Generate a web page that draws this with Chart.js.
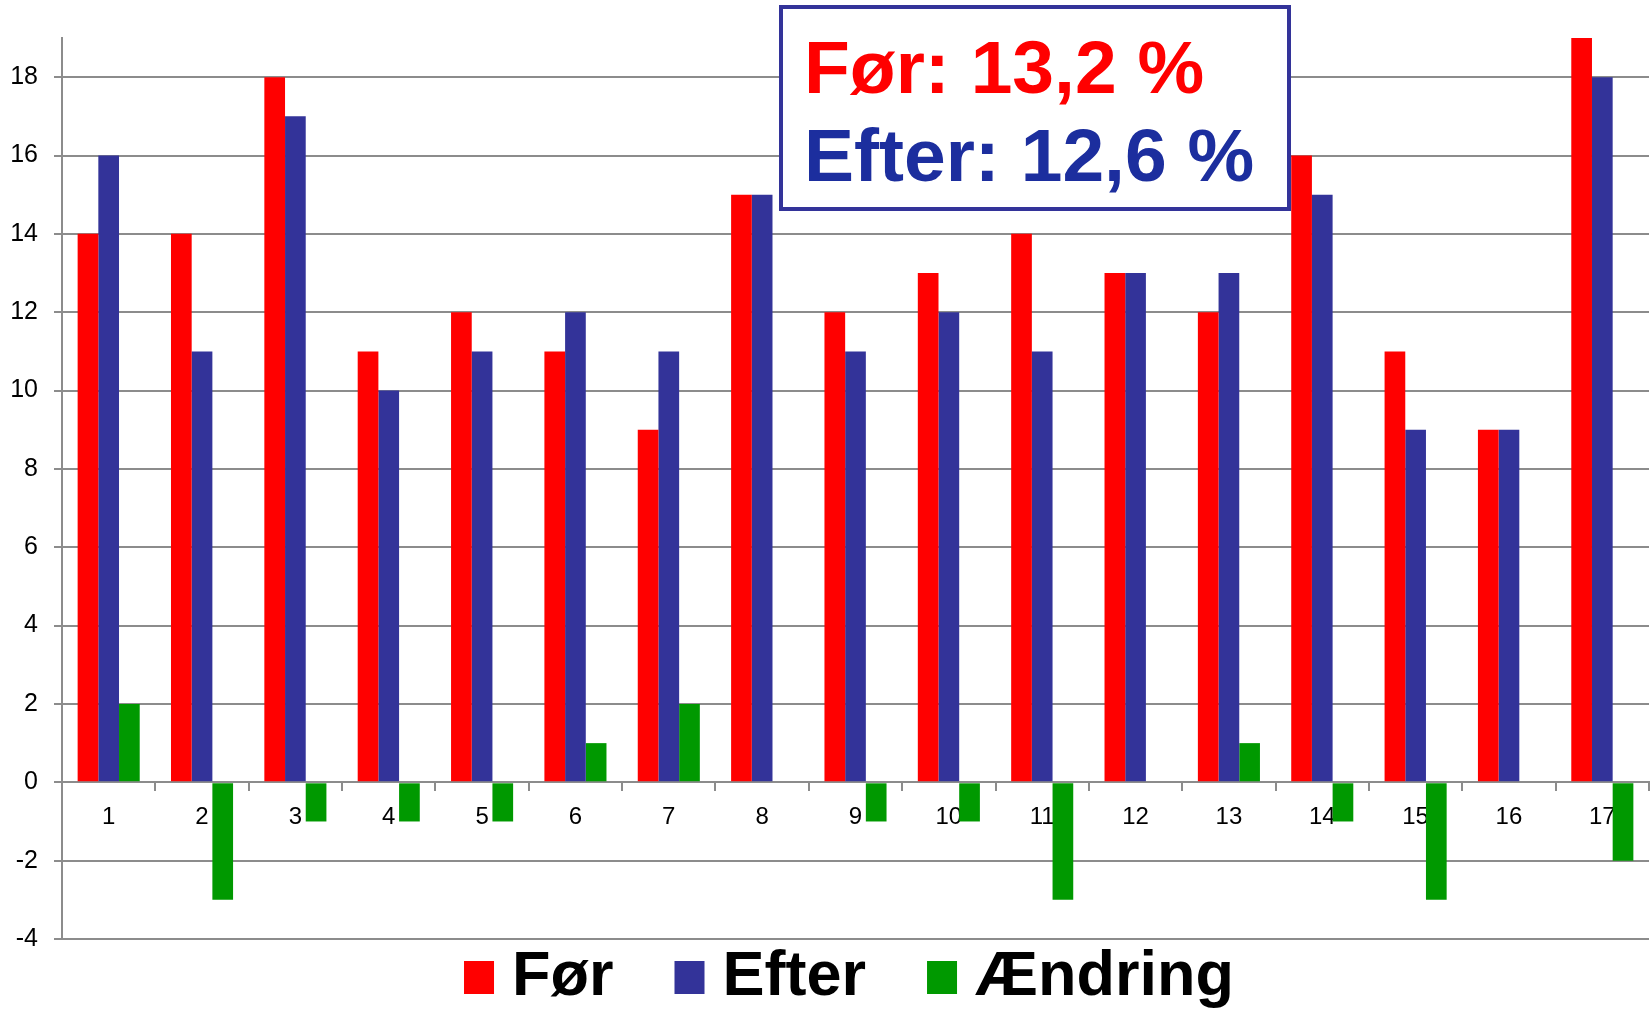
<!DOCTYPE html>
<html lang="da">
  <head>
    <meta charset="UTF-8" />
    <title>Før og efter</title>
    <script src="https://cdn.jsdelivr.net/npm/chart.js@4/dist/chart.umd.min.js"></script>
    <style>
      body { margin: 0; background: #fff; }
    </style>
  </head>
  <body>
    <canvas id="myChart" width="1652" height="1009"></canvas>
    <script>
      // data
      var kategorier = ["1", "2", "3", "4", "5", "6", "7", "8", "9", "10", "11", "12", "13", "14", "15", "16", "17"];
      var foer = [14, 14, 18, 11, 12, 11, 9, 15, 12, 13, 14, 13, 12, 16, 11, 9, 19];
      var efter = [16, 11, 17, 10, 11, 12, 11, 15, 11, 12, 11, 13, 13, 15, 9, 9, 18];
      var aendring = [2, -3, -1, -1, -1, 1, 2, 0, -1, -1, -3, 0, 1, -1, -3, 0, -2];
      var serieNavne = ["Før", "Efter", "Ændring"];
      var boksTekst = ["Før: 13,2 %", "Efter: 12,6 %"];

      var skrift = "'Liberation Sans', Arial, sans-serif";
      var graa = "#8c8c8c";

      // tekstboks oeverst
      var boksPlugin = {
        id: "boks",
        afterDraw: function (chart) {
          var ctx = chart.ctx;
          ctx.save();
          ctx.fillStyle = "#fff";
          ctx.fillRect(781, 7, 508, 202);
          ctx.strokeStyle = "#333399";
          ctx.lineWidth = 4;
          ctx.strokeRect(781, 7, 508, 202);
          ctx.font = "bold 75px " + skrift;
          ctx.textBaseline = "alphabetic";
          ctx.textAlign = "left";
          ctx.fillStyle = "#ff0000";
          ctx.fillText(boksTekst[0], 804, 93);
          ctx.fillStyle = "#1c2e9e";
          ctx.fillText(boksTekst[1], 804, 181);
          ctx.restore();
        },
      };

      // forklaring nederst
      var forklaringPlugin = {
        id: "forklaring",
        afterDraw: function (chart) {
          var ctx = chart.ctx;
          var ds = chart.data.datasets;
          ctx.save();
          ctx.font = "bold 63px " + skrift;
          ctx.textBaseline = "alphabetic";
          ctx.textAlign = "left";
          var bredder = ds.map(function (d) { return ctx.measureText(d.label).width; });
          var total = 0;
          for (var i = 0; i < ds.length; i++) total += 30 + 18 + bredder[i];
          total += 61 * (ds.length - 1);
          var x = 849 - total / 2;
          for (var i = 0; i < ds.length; i++) {
            ctx.fillStyle = ds[i].backgroundColor;
            ctx.fillRect(x, 961, 30, 33);
            ctx.fillStyle = "#000";
            ctx.fillText(ds[i].label, x + 48, 995);
            x += 48 + bredder[i] + 61;
          }
          ctx.restore();
        },
      };

      new Chart(document.getElementById("myChart"), {
        type: "bar",
        data: {
          labels: kategorier,
          datasets: [
            { label: serieNavne[0], data: foer, backgroundColor: "#ff0000" },
            { label: serieNavne[1], data: efter, backgroundColor: "#333399" },
            { label: serieNavne[2], data: aendring, backgroundColor: "#009900" },
          ],
        },
        options: {
          responsive: false,
          animation: false,
          devicePixelRatio: 1,
          layout: { padding: { top: 38, left: 0, right: 3, bottom: 70 } },
          datasets: { bar: { barPercentage: 1, categoryPercentage: 0.665 } },
          plugins: { legend: { display: false }, tooltip: { enabled: false } },
          scales: {
            x: {
              position: { y: 0 },
              offset: true,
              grid: { offset: true, drawOnChartArea: false, drawTicks: true, tickLength: 8, color: graa, lineWidth: 2 },
              border: { display: true, color: graa, width: 2 },
              ticks: { color: "#000", font: { family: skrift, size: 24 }, padding: 13, maxRotation: 0 },
            },
            y: {
              min: -4,
              max: 19,
              afterFit: function (s) { s.width = 62; },
              grid: { color: graa, lineWidth: 2, tickLength: 8 },
              border: { display: true, color: graa, width: 2 },
              ticks: { stepSize: 2, includeBounds: false, color: "#000", font: { family: skrift, size: 25 }, padding: 16 },
            },
          },
        },
        plugins: [boksPlugin, forklaringPlugin],
      });
    </script>
  </body>
</html>
